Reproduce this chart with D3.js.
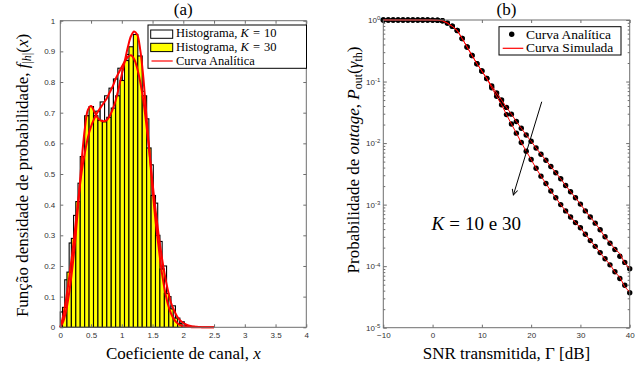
<!DOCTYPE html>
<html>
<head>
<meta charset="utf-8">
<script src="https://cdn.jsdelivr.net/npm/d3@7"></script>
<style>
  body { margin: 0; background: #fff; }
  svg { display: block; }
</style>
</head>
<body>
<div id="chart"></div>
<script>
// ---------- panel (a): histograms + analytic pdf ----------
const binW = 0.072;
const k10Start = 0, k30Start = 0.036;

const histK10 = [0.05, 0.155, 0.275, 0.365, 0.47, 0.557, 0.69, 0.69, 0.705, 0.735,
  0.755, 0.78, 0.81, 0.845, 0.84, 0.89, 0.87, 0.84, 0.77, 0.68,
  0.53, 0.405, 0.28, 0.2, 0.1, 0.07, 0.03, 0.018, 0.006, 0.003];

const histK30 = [0.065, 0.18, 0.29, 0.41, 0.557, 0.69, 0.72, 0.69, 0.675, 0.67,
  0.685, 0.715, 0.755, 0.805, 0.87, 0.915, 0.955, 0.885, 0.755, 0.585,
  0.43, 0.3, 0.19, 0.11, 0.06, 0.03, 0.012, 0.004];

const densX = [0, 0.05, 0.1, 0.15, 0.2, 0.25, 0.3, 0.35, 0.4, 0.45,
  0.5, 0.55, 0.6, 0.65, 0.7, 0.75, 0.8, 0.85, 0.9, 0.95,
  1.0, 1.05, 1.1, 1.15, 1.2, 1.25, 1.3, 1.35, 1.4, 1.45,
  1.5, 1.55, 1.6, 1.65, 1.7, 1.75, 1.8, 1.85, 1.9, 1.95,
  2.0, 2.05, 2.1, 2.15, 2.2, 2.25, 2.3, 2.35, 2.4, 2.45, 2.5];

const densK10 = [0, 0.04, 0.1, 0.17, 0.25, 0.34, 0.43, 0.51, 0.57, 0.62,
  0.655, 0.68, 0.7, 0.715, 0.73, 0.745, 0.765, 0.785, 0.81, 0.83,
  0.85, 0.868, 0.882, 0.887, 0.875, 0.845, 0.8, 0.74, 0.66, 0.57,
  0.47, 0.38, 0.3, 0.23, 0.17, 0.12, 0.08, 0.055, 0.035, 0.022,
  0.014, 0.009, 0.005, 0.003, 0.002, 0.001, 0.0005, 0, 0, 0, 0];

const densK30 = [0, 0.02, 0.06, 0.12, 0.2, 0.3, 0.42, 0.55, 0.65, 0.71,
  0.722, 0.705, 0.685, 0.675, 0.672, 0.675, 0.688, 0.71, 0.74, 0.78,
  0.825, 0.87, 0.915, 0.95, 0.965, 0.955, 0.905, 0.815, 0.69, 0.57,
  0.45, 0.345, 0.26, 0.18, 0.12, 0.075, 0.045, 0.026, 0.014, 0.007,
  0.004, 0.002, 0.001, 0, 0, 0, 0, 0, 0, 0, 0];

const xTicksA = [0, 0.5, 1, 1.5, 2, 2.5, 3, 3.5, 4];
const yTicksA = [0, 0.1, 0.2, 0.3, 0.4, 0.5, 0.6, 0.7, 0.8, 0.9, 1];

// ---------- panel (b): outage probability ----------
const snrDb = [-10, -9, -8, -7, -6, -5, -4, -3, -2, -1,
  0, 1, 2, 3, 4, 5, 6, 7, 8, 9, 10,
  11, 12, 13, 14, 15, 16, 17, 18, 19, 20,
  21, 22, 23, 24, 25, 26, 27, 28, 29, 30,
  31, 32, 33, 34, 35, 36, 37, 38, 39, 40];

// common part, -10 .. 11 dB
const pHead = [1, 1, 1, 1, 1, 1, 1, 1, 1, 1,
  0.996, 0.99, 0.975, 0.89, 0.79, 0.675, 0.5, 0.365, 0.265, 0.195, 0.148, 0.112];

// 12 .. 40 dB
const pK10Tail = [8.5e-2, 6.5e-2, 5.0e-2, 3.8e-2, 2.95e-2, 2.24e-2, 1.74e-2, 1.35e-2, 1.07e-2,
  8.3e-3, 6.6e-3, 5.25e-3, 4.17e-3, 3.3e-3, 2.63e-3, 2.04e-3, 1.62e-3, 1.29e-3, 1.02e-3,
  7.9e-4, 6.3e-4, 5.0e-4, 3.9e-4, 3.0e-4, 2.35e-4, 1.86e-4, 1.45e-4, 1.15e-4, 9.1e-5];
const pK30Tail = [7.9e-2, 5.75e-2, 4.2e-2, 2.9e-2, 2.04e-2, 1.45e-2, 1.02e-2, 7.4e-3, 5.4e-3,
  3.9e-3, 2.9e-3, 2.2e-3, 1.66e-3, 1.29e-3, 1.0e-3, 7.9e-4, 6.3e-4, 5.1e-4, 4.2e-4,
  3.3e-4, 2.6e-4, 2.1e-4, 1.66e-4, 1.32e-4, 1.05e-4, 8.1e-5, 6.3e-5, 4.9e-5, 3.7e-5];
const simK10Tail = [8.5e-2, 6.5e-2, 5.0e-2, 3.8e-2, 2.95e-2, 2.24e-2, 1.74e-2, 1.35e-2, 1.07e-2,
  8.3e-3, 6.6e-3, 5.25e-3, 4.17e-3, 3.3e-3, 2.63e-3, 2.04e-3, 1.62e-3, 1.29e-3, 1.02e-3,
  7.9e-4, 6.3e-4, 5.0e-4, 3.9e-4, 2.95e-4, 2.4e-4, 1.9e-4, 1.6e-4, 1.12e-4, 9.2e-5];
const simK30Tail = [7.9e-2, 5.75e-2, 4.2e-2, 2.9e-2, 2.04e-2, 1.45e-2, 1.02e-2, 7.4e-3, 5.4e-3,
  3.9e-3, 2.9e-3, 2.2e-3, 1.66e-3, 1.29e-3, 1.0e-3, 7.9e-4, 6.3e-4, 5.1e-4, 4.2e-4,
  3.3e-4, 2.6e-4, 2.1e-4, 1.66e-4, 1.3e-4, 1.07e-4, 8.0e-5, 6.6e-5, 4.6e-5, 3.8e-5];

const pK10 = pHead.concat(pK10Tail);
const pK30 = pHead.concat(pK30Tail);
const simK10 = pHead.concat(simK10Tail);
const simK30 = pHead.concat(simK30Tail);

const xTicksB = [-10, 0, 10, 20, 30, 40];
const yTicksB = [1e-5, 1e-4, 1e-3, 1e-2, 1e-1, 1];

// ---------- setup ----------
const W = 643, H = 367;
const serif = "'Liberation Serif', 'Times New Roman', serif";
const sans = "'Liberation Sans', Arial, sans-serif";
const frameColor = "#6e6e6e";
const tickColor = "#333";

const svg = d3.select("#chart").append("svg")
  .attr("width", W).attr("height", H)
  .style("font-family", serif);

function styleAxis(g) {
  g.select(".domain").remove();
  g.selectAll(".tick line").attr("stroke", frameColor);
  g.selectAll(".tick text").attr("fill", tickColor)
    .style("font-family", sans).style("font-size", "8px");
}

// "K = 10" with the wider latex-like spacing around "="
function kLabel(t, k, gap) {
  t.append("tspan").style("font-style", "italic").text("K");
  t.append("tspan").attr("dx", gap).text("=");
  t.append("tspan").attr("dx", gap).text(k);
}

// ---------- panel (a) ----------
const xa = d3.scaleLinear().domain([0, 4]).range([60.3, 306.3]);
const ya = d3.scaleLinear().domain([0, 1]).range([327.3, 20.7]);

const ga = svg.append("g");

// K = 10 histogram (white)
ga.append("g").selectAll("rect")
  .data(histK10)
  .enter().append("rect")
    .attr("x", (d, i) => xa(k10Start + i * binW))
    .attr("width", xa(binW) - xa(0))
    .attr("y", d => ya(d))
    .attr("height", d => ya(0) - ya(d))
    .attr("fill", "#fff")
    .attr("stroke", "#000")
    .attr("stroke-width", 1.1);

// K = 30 histogram (yellow)
ga.append("g").selectAll("rect")
  .data(histK30)
  .enter().append("rect")
    .attr("x", (d, i) => xa(k30Start + i * binW))
    .attr("width", xa(binW) - xa(0))
    .attr("y", d => ya(d))
    .attr("height", d => ya(0) - ya(d))
    .attr("fill", "#ffff00")
    .attr("stroke", "#000")
    .attr("stroke-width", 1.1);

const densLine = d3.line()
  .x(d => xa(d[0]))
  .y(d => ya(d[1]))
  .curve(d3.curveCatmullRom);

[densK10, densK30].forEach(arr => {
  ga.append("path")
    .datum(densX.map((x, i) => [x, arr[i]]))
    .attr("d", densLine)
    .attr("fill", "none")
    .attr("stroke", "#ff0000")
    .attr("stroke-width", 2);
});

// axes (ticks point inwards, like matlab)
ga.append("g").attr("transform", "translate(0," + ya(0) + ")")
  .call(d3.axisBottom(xa).tickValues(xTicksA).tickSize(-3).tickPadding(5).tickFormat(d3.format("")))
  .call(styleAxis);
ga.append("g").attr("transform", "translate(0," + ya(1) + ")")
  .call(d3.axisTop(xa).tickValues(xTicksA).tickSize(-3).tickFormat(""))
  .call(styleAxis);
ga.append("g").attr("transform", "translate(" + xa(0) + ",0)")
  .call(d3.axisLeft(ya).tickValues(yTicksA).tickSize(-3).tickPadding(5).tickFormat(d3.format("")))
  .call(styleAxis);
ga.append("g").attr("transform", "translate(" + xa(4) + ",0)")
  .call(d3.axisRight(ya).tickValues(yTicksA).tickSize(-3).tickFormat(""))
  .call(styleAxis);

ga.append("rect")
  .attr("x", xa(0)).attr("y", ya(1))
  .attr("width", xa(4) - xa(0)).attr("height", ya(0) - ya(1))
  .attr("fill", "none").attr("stroke", frameColor).attr("stroke-width", 1);

// title & labels
ga.append("text").attr("x", (xa(0) + xa(4)) / 2).attr("y", 15)
  .attr("text-anchor", "middle").style("font-size", "17px").text("(a)");

const xla = ga.append("text").attr("x", (xa(0) + xa(4)) / 2).attr("y", 359)
  .attr("text-anchor", "middle").style("font-size", "17px");
xla.append("tspan").text("Coeficiente de canal, ");
xla.append("tspan").style("font-style", "italic").text("x");

const yla = ga.append("text")
  .attr("transform", "translate(27.5,175.5) rotate(-90)")
  .attr("text-anchor", "middle").style("font-size", "17px");
yla.append("tspan").text("Função densidade de probabilidade, ");
yla.append("tspan").style("font-style", "italic").text("f");
yla.append("tspan").attr("dy", 3).style("font-size", "12px").text("|");
yla.append("tspan").style("font-size", "12px").style("font-style", "italic").text("h");
yla.append("tspan").style("font-size", "12px").text("|");
yla.append("tspan").attr("dy", -3).text("(");
yla.append("tspan").style("font-style", "italic").text("x");
yla.append("tspan").text(")");

// legend (a)
const la = ga.append("g");
la.append("rect").attr("x", 148).attr("y", 25).attr("width", 158.5).attr("height", 43.3)
  .attr("fill", "#fff").attr("stroke", "#000").attr("stroke-width", 1);
la.append("rect").attr("x", 150.7).attr("y", 30).attr("width", 22).attr("height", 8.3)
  .attr("fill", "#fff").attr("stroke", "#000").attr("stroke-width", 1);
la.append("rect").attr("x", 150.7).attr("y", 43.3).attr("width", 22).attr("height", 8.3)
  .attr("fill", "#ffff00").attr("stroke", "#000").attr("stroke-width", 1);
la.append("line").attr("x1", 151.5).attr("x2", 172.7).attr("y1", 61).attr("y2", 61)
  .attr("stroke", "#ff0000").attr("stroke-width", 1.2);
[["10", 37.3], ["30", 51.2]].forEach(([k, y]) => {
  const t = la.append("text").attr("x", 176).attr("y", y).style("font-size", "12.5px");
  t.append("tspan").text("Histograma, ");
  kLabel(t, k, 4);
});
la.append("text").attr("x", 176).attr("y", 65).style("font-size", "12.5px").text("Curva Analítica");

// ---------- panel (b) ----------
const xb = d3.scaleLinear().domain([-10, 40]).range([383.3, 629.7]);
const yb = d3.scaleLog().domain([1e-5, 1]).range([327.7, 20]);

const gb = svg.append("g");

const minorB = [];
yTicksB.slice(0, -1).forEach(d => { for (let m = 2; m <= 9; m++) minorB.push(d * m); });

gb.append("g").attr("transform", "translate(0," + yb(1e-5) + ")")
  .call(d3.axisBottom(xb).tickValues(xTicksB).tickSize(-3).tickPadding(5).tickFormat(d3.format("")))
  .call(styleAxis);
gb.append("g").attr("transform", "translate(0," + yb(1) + ")")
  .call(d3.axisTop(xb).tickValues(xTicksB).tickSize(-3).tickFormat(""))
  .call(styleAxis);
const yAxB = gb.append("g").attr("transform", "translate(" + xb(-10) + ",0)")
  .call(d3.axisLeft(yb).tickValues(yTicksB).tickSize(-3.5).tickPadding(3))
  .call(styleAxis);
yAxB.selectAll(".tick text").each(function(d) {
  const t = d3.select(this).text("");
  t.append("tspan").text("10");
  t.append("tspan").attr("dy", "-0.45em").style("font-size", "6px").text(Math.round(Math.log10(d)));
});
gb.append("g").attr("transform", "translate(" + xb(-10) + ",0)")
  .call(d3.axisLeft(yb).tickValues(minorB).tickSize(-2).tickFormat(""))
  .call(styleAxis);
gb.append("g").attr("transform", "translate(" + xb(40) + ",0)")
  .call(d3.axisRight(yb).tickValues(yTicksB).tickSize(-3.5).tickFormat(""))
  .call(styleAxis);
gb.append("g").attr("transform", "translate(" + xb(40) + ",0)")
  .call(d3.axisRight(yb).tickValues(minorB).tickSize(-2).tickFormat(""))
  .call(styleAxis);

const outLine = d3.line().x(d => xb(d[0])).y(d => yb(d[1]));

[pK10, pK30].forEach(arr => {
  gb.append("g").selectAll("circle")
    .data(snrDb.map((s, i) => [s, arr[i]]))
    .enter().append("circle")
      .attr("cx", d => xb(d[0]))
      .attr("cy", d => yb(d[1]))
      .attr("r", 2.7)
      .attr("fill", "#000");
});
[simK10, simK30].forEach(arr => {
  gb.append("path")
    .datum(snrDb.map((s, i) => [s, arr[i]]))
    .attr("d", outLine)
    .attr("fill", "none")
    .attr("stroke", "#ff0000")
    .attr("stroke-width", 1);
});

gb.append("rect")
  .attr("x", xb(-10)).attr("y", yb(1))
  .attr("width", xb(40) - xb(-10)).attr("height", yb(1e-5) - yb(1))
  .attr("fill", "none").attr("stroke", frameColor).attr("stroke-width", 1);

// arrow + annotation
svg.append("defs").append("marker")
  .attr("id", "arr").attr("viewBox", "0 0 10 10").attr("refX", 9).attr("refY", 5)
  .attr("markerWidth", 7).attr("markerHeight", 7).attr("orient", "auto")
  .append("path").attr("d", "M1,1 L9,5 L1,9").attr("fill", "none")
  .attr("stroke", "#000").attr("stroke-width", 1.4);
gb.append("line")
  .attr("x1", xb(22.15)).attr("y1", yb(0.047))
  .attr("x2", xb(16.39)).attr("y2", yb(1.43e-3))
  .attr("stroke", "#000").attr("stroke-width", 1)
  .attr("marker-end", "url(#arr)");

const kt = gb.append("text").attr("x", xb(-0.2)).attr("y", yb(3.9e-4)).style("font-size", "19px");
kLabel(kt, "10", 5);
kt.append("tspan").text(" e 30");

// title & labels
gb.append("text").attr("x", (xb(-10) + xb(40)) / 2).attr("y", 15)
  .attr("text-anchor", "middle").style("font-size", "17px").text("(b)");

gb.append("text").attr("x", (xb(-10) + xb(40)) / 2).attr("y", 359)
  .attr("text-anchor", "middle").style("font-size", "17px")
  .text("SNR transmitida, Γ [dB]");

const ylb = gb.append("text")
  .attr("transform", "translate(359,160) rotate(-90)")
  .attr("text-anchor", "middle").style("font-size", "17px");
ylb.append("tspan").text("Probabilidade de ");
ylb.append("tspan").style("font-style", "italic").text("outage");
ylb.append("tspan").text(", ");
ylb.append("tspan").style("font-style", "italic").text("P");
ylb.append("tspan").attr("dy", 3).style("font-size", "12px").text("out");
ylb.append("tspan").attr("dy", -3).text("(");
ylb.append("tspan").style("font-style", "italic").text("γ");
ylb.append("tspan").attr("dy", 3).style("font-size", "12px").text("th");
ylb.append("tspan").attr("dy", -3).text(")");

// legend (b)
const lb = gb.append("g");
lb.append("rect").attr("x", 499).attr("y", 26.7).attr("width", 122).attr("height", 28.3)
  .attr("fill", "#fff").attr("stroke", "#000").attr("stroke-width", 1);
lb.append("circle").attr("cx", 511.7).attr("cy", 34.3).attr("r", 2.7).attr("fill", "#000");
lb.append("line").attr("x1", 502.7).attr("x2", 523.3).attr("y1", 48.3).attr("y2", 48.3)
  .attr("stroke", "#ff0000").attr("stroke-width", 1.2);
lb.append("text").attr("x", 526).attr("y", 38.5).style("font-size", "13.5px").text("Curva Analítica");
lb.append("text").attr("x", 526).attr("y", 52).style("font-size", "13.5px").text("Curva Simulada");
</script>
</body>
</html>
